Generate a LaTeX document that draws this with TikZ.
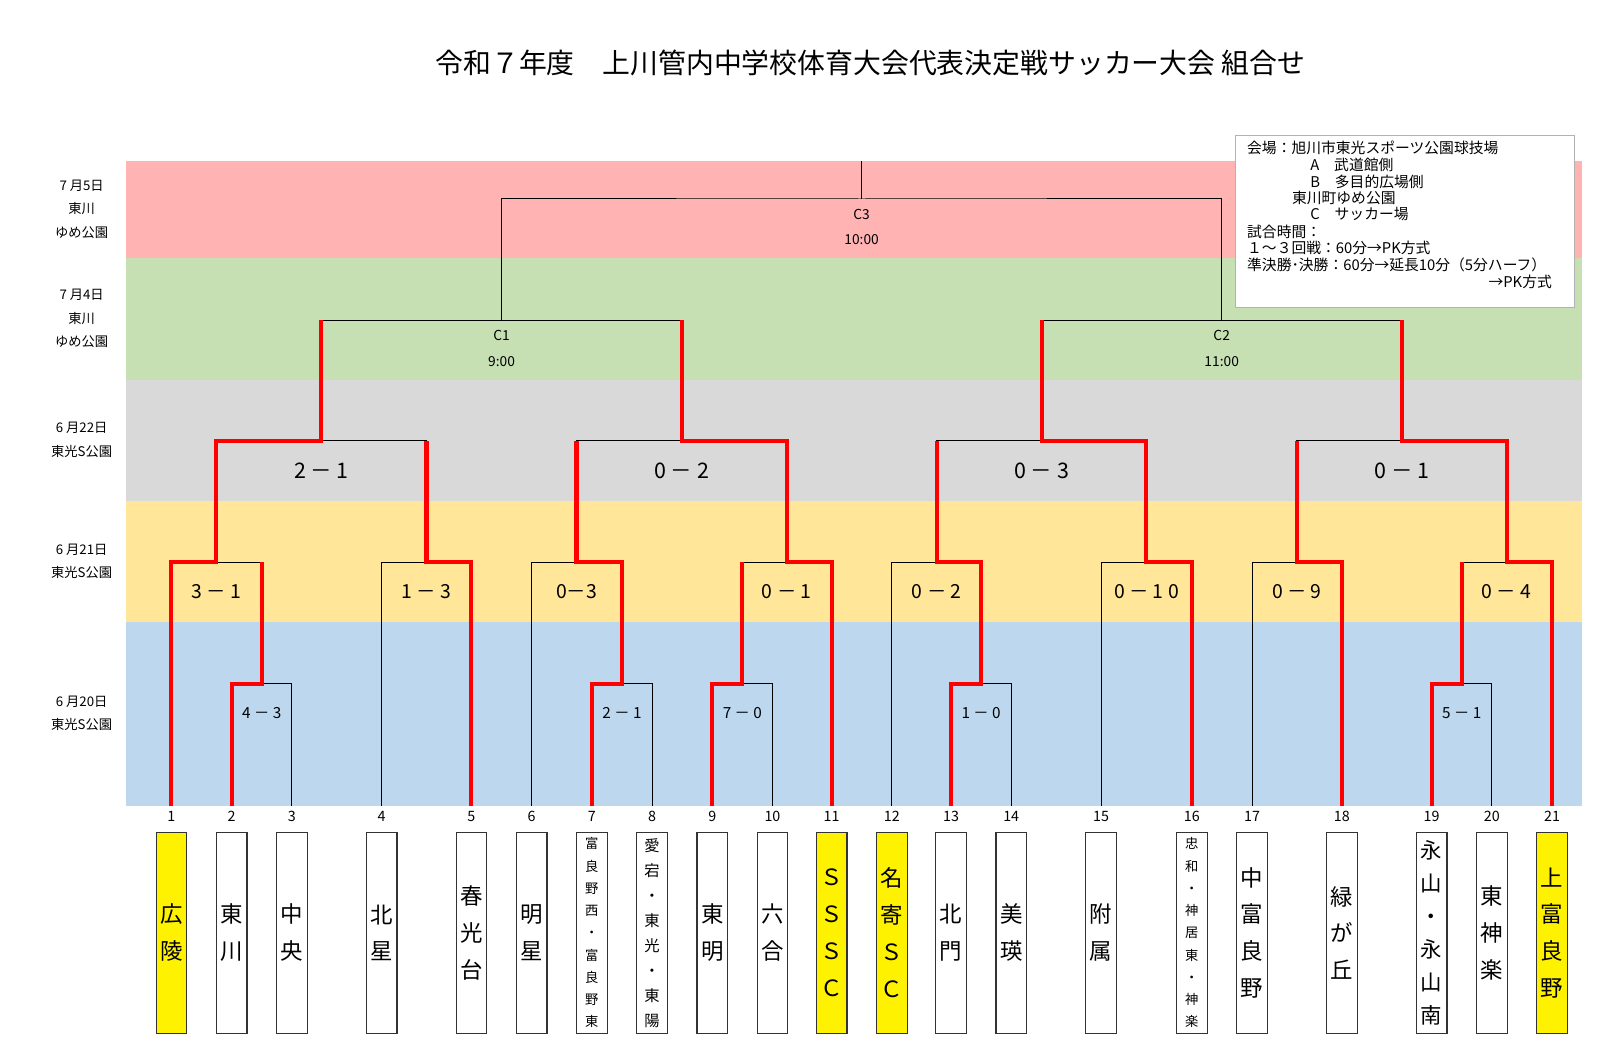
\documentclass[tikz,border=0pt]{standalone}
\usepackage{fontspec}
\setmainfont{Noto Sans CJK JP}
\usetikzlibrary{positioning}
\definecolor{bandpink}{HTML}{FFB3B3}
\definecolor{bandgreen}{HTML}{C6E0B4}
\definecolor{bandgray}{HTML}{D9D9D9}
\definecolor{bandyellow}{HTML}{FFE699}
\definecolor{bandblue}{HTML}{BDD7EE}
\definecolor{winred}{HTML}{FF0000}

\begin{document}
\begin{tikzpicture}[x=1pt, y=-1pt,
  team/.style={draw=black!80, line width=1.2pt, fill=white, minimum width=30pt,
    minimum height=197pt, inner sep=0pt, align=center,
    font=\fontsize{22}{36}\selectfont},
  tinyname/.style={font=\fontsize{13}{21.8}\selectfont},
  smallname/.style={font=\fontsize{15}{24.5}\selectfont},
  midname/.style={font=\fontsize{21}{32.4}\selectfont},
  teamno/.style={inner sep=0pt, font=\fontsize{14}{14}\selectfont},
  bracket/.style={line width=1pt, black},
  win/.style={line width=4pt, winred},
  scoreA/.style={inner sep=0pt, font=\fontsize{15}{15}\selectfont},
  scoreB/.style={inner sep=0pt, font=\fontsize{19}{19}\selectfont},
  scoreC/.style={inner sep=0pt, font=\fontsize{21}{21}\selectfont},
  court/.style={inner sep=0pt, font=\fontsize{13.5}{13.5}\selectfont},
  dateinfo/.style={inner sep=0pt, align=center, font=\fontsize{13}{22.7}\selectfont},
  info/.style={inner sep=0pt, anchor=west, font=\fontsize{14.5}{14.5}\selectfont}]

  \fill[white] (0,0) rectangle (1568,1031);
  \useasboundingbox (0,0) rectangle (1568,1031);

  \node[inner sep=0pt, font=\fontsize{27.3}{27.3}\selectfont] (title) at (853,62)
    {令和７年度　上川管内中学校体育大会代表決定戦サッカー大会 組合せ};

  \fill[bandpink] (123,158) rectangle (1550,253);
  \fill[bandgreen] (123,253) rectangle (1550,372);
  \fill[bandgray] (123,372) rectangle (1550,491);
  \fill[bandyellow] (123,491) rectangle (1550,610);
  \fill[bandblue] (123,610) rectangle (1550,790);

  \node[dateinfo] (day5) at (80,205) {7 月5日\\東川\\ゆめ公園};
  \node[dateinfo] (day4) at (80,312) {7 月4日\\東川\\ゆめ公園};
  \node[dateinfo] (day3) at (80,431) {6 月22日\\東光S公園};
  \node[dateinfo] (day2) at (80,550) {6 月21日\\東光S公園};
  \node[dateinfo] (day1) at (80,699) {6 月20日\\東光S公園};

  \foreach \n/\x in {1/168, 2/227, 3/286, 4/374, 5/462, 6/521, 7/580, 8/639,
      9/698, 10/757, 11/815, 12/874, 13/932, 14/991, 15/1079, 16/1168,
      17/1227, 18/1315, 19/1403, 20/1462, 21/1521} {
    \coordinate (p\n) at (\x,790);
    \node[teamno] (n\n) at (\x,800) {\n};
  }
  \coordinate (top) at (0,158);

  \coordinate (a1) at (256.5,670);
  \coordinate (a2) at (609.5,670);
  \coordinate (a3) at (727.5,670);
  \coordinate (a4) at (961.5,670);
  \coordinate (a5) at (1432.5,670);
  \coordinate (b1) at (212,551);
  \coordinate (b2) at (418,551);
  \coordinate (b3) at (565,551);
  \coordinate (b4) at (771,551);
  \coordinate (b5) at (918,551);
  \coordinate (b6) at (1123.5,551);
  \coordinate (b7) at (1271,551);
  \coordinate (b8) at (1476.5,551);
  \coordinate (c1) at (315,432);
  \coordinate (c2) at (668,432);
  \coordinate (c3) at (1020.75,432);
  \coordinate (c4) at (1373.75,432);
  \coordinate (d1) at (491.5,314);
  \coordinate (d2) at (1197.25,314);
  \coordinate (e1) at (844.4,195);

  \foreach \l/\m/\r in {p2/a1/p3, p7/a2/p8, p9/a3/p10, p13/a4/p14, p19/a5/p20,
      p1/b1/a1, p4/b2/p5, p6/b3/a2, a3/b4/p11, p12/b5/a4, p15/b6/p16,
      p17/b7/p18, a5/b8/p21, b1/c1/b2, b3/c2/b4, b5/c3/b6, b7/c4/b8,
      c1/d1/c2, c3/d2/c4, d1/e1/d2}
    \draw[bracket] (\l) |- (\m) -| (\r);
  \draw[bracket] (e1) -- (e1 |- top);

  \draw[win] (p1) |- (b1) |- (c1) -- (c1 |- d1);
  \draw[win] (p2) |- (a1) -- (a1 |- b1);
  \draw[win] (p5) |- (b2) -- (b2 |- c1);
  \draw[win] (p7) |- (a2) |- (b3) -- (b3 |- c1);
  \draw[win] (p9) |- (a3) -- (a3 |- b4);
  \draw[win] (p11) |- (b4) |- (c2) -- (c2 |- d1);
  \draw[win] (p13) |- (a4) |- (b5) -- (b5 |- c3);
  \draw[win] (p16) |- (b6) |- (c3) -- (c3 |- d2);
  \draw[win] (p18) |- (b7) -- (b7 |- c4);
  \draw[win] (p19) |- (a5) -- (a5 |- b8);
  \draw[win] (p21) |- (b8) |- (c4) -- (c4 |- d2);

  \node[scoreA] (sa1) at ([yshift=-29pt]a1) {4 － 3};
  \node[scoreA] (sa2) at ([yshift=-29pt]a2) {2 － 1};
  \node[scoreA] (sa3) at ([yshift=-29pt]a3) {7 － 0};
  \node[scoreA] (sa4) at ([yshift=-29pt]a4) {1 － 0};
  \node[scoreA] (sa5) at ([yshift=-29pt]a5) {5 － 1};
  \node[scoreB] (sb1) at ([yshift=-29pt]b1) {3 － 1};
  \node[scoreB] (sb2) at ([yshift=-29pt]b2) {1 － 3};
  \node[scoreB] (sb3) at ([yshift=-29pt]b3) {0－3};
  \node[scoreB] (sb4) at ([yshift=-29pt]b4) {0 － 1};
  \node[scoreB] (sb5) at ([yshift=-29pt]b5) {0 － 2};
  \node[scoreB] (sb6) at ([yshift=-29pt]b6) {0 － 1 0};
  \node[scoreB] (sb7) at ([yshift=-29pt]b7) {0 － 9};
  \node[scoreB] (sb8) at ([yshift=-29pt]b8) {0 － 4};
  \node[scoreC] (sc1) at ([yshift=-29pt]c1) {2 － 1};
  \node[scoreC] (sc2) at ([yshift=-29pt]c2) {0 － 2};
  \node[scoreC] (sc3) at ([yshift=-29pt]c3) {0 － 3};
  \node[scoreC] (sc4) at ([yshift=-29pt]c4) {0 － 1};

  \node[court] (cd1) at ([yshift=-15pt]d1) {C1};
  \node[court] (td1) at ([yshift=-40pt]d1) {9:00};
  \node[court] (cd2) at ([yshift=-15pt]d2) {C2};
  \node[court] (td2) at ([yshift=-40pt]d2) {11:00};
  \node[court] (ce1) at ([yshift=-15pt]e1) {C3};
  \node[court] (te1) at ([yshift=-40pt]e1) {10:00};

  \node[team, fill=yellow, below=25pt of p1] (t1) {広\\陵};
  \node[team, below=25pt of p2] (t2) {東\\川};
  \node[team, below=25pt of p3] (t3) {中\\央};
  \node[team, below=25pt of p4] (t4) {北\\星};
  \node[team, below=25pt of p5] (t5) {春\\光\\台};
  \node[team, below=25pt of p6] (t6) {明\\星};
  \node[team, tinyname, below=25pt of p7] (t7) {富\\良\\野\\西\\・\\富\\良\\野\\東};
  \node[team, smallname, below=25pt of p8] (t8) {愛\\宕\\・\\東\\光\\・\\東\\陽};
  \node[team, below=25pt of p9] (t9) {東\\明};
  \node[team, below=25pt of p10] (t10) {六\\合};
  \node[team, fill=yellow, below=25pt of p11] (t11) {Ｓ\\Ｓ\\Ｓ\\Ｃ};
  \node[team, fill=yellow, below=25pt of p12] (t12) {名\\寄\\Ｓ\\Ｃ};
  \node[team, below=25pt of p13] (t13) {北\\門};
  \node[team, below=25pt of p14] (t14) {美\\瑛};
  \node[team, below=25pt of p15] (t15) {附\\属};
  \node[team, tinyname, below=25pt of p16] (t16) {忠\\和\\・\\神\\居\\東\\・\\神\\楽};
  \node[team, below=25pt of p17] (t17) {中\\富\\良\\野};
  \node[team, below=25pt of p18] (t18) {緑\\が\\丘};
  \node[team, midname, below=25pt of p19] (t19) {永\\山\\・\\永\\山\\南};
  \node[team, below=25pt of p20] (t20) {東\\神\\楽};
  \node[team, fill=yellow, below=25pt of p21] (t21) {上\\富\\良\\野};

  \draw[black!30, line width=1pt, fill=white] (1211,133) rectangle (1543,301);
  \node[info] (i1) at (1222,145) {会場：旭川市東光スポーツ公園球技場};
  \node[info] (i2) at (1284,161.7) {A　武道館側};
  \node[info] (i3) at (1284,178) {B　多目的広場側};
  \node[info] (i4) at (1266,194.3) {東川町ゆめ公園};
  \node[info] (i5) at (1284,210) {C　サッカー場};
  \node[info] (i6) at (1222,227) {試合時間：};
  \node[info] (i7) at (1222,243.3) {１～３回戦：60分→PK方式};
  \node[info] (i8) at (1222,259.7) {準決勝･決勝：60分→延長10分（5分ハーフ）};
  \node[info, anchor=east] (i9) at (1521,276) {→PK方式};
\end{tikzpicture}
\end{document}
